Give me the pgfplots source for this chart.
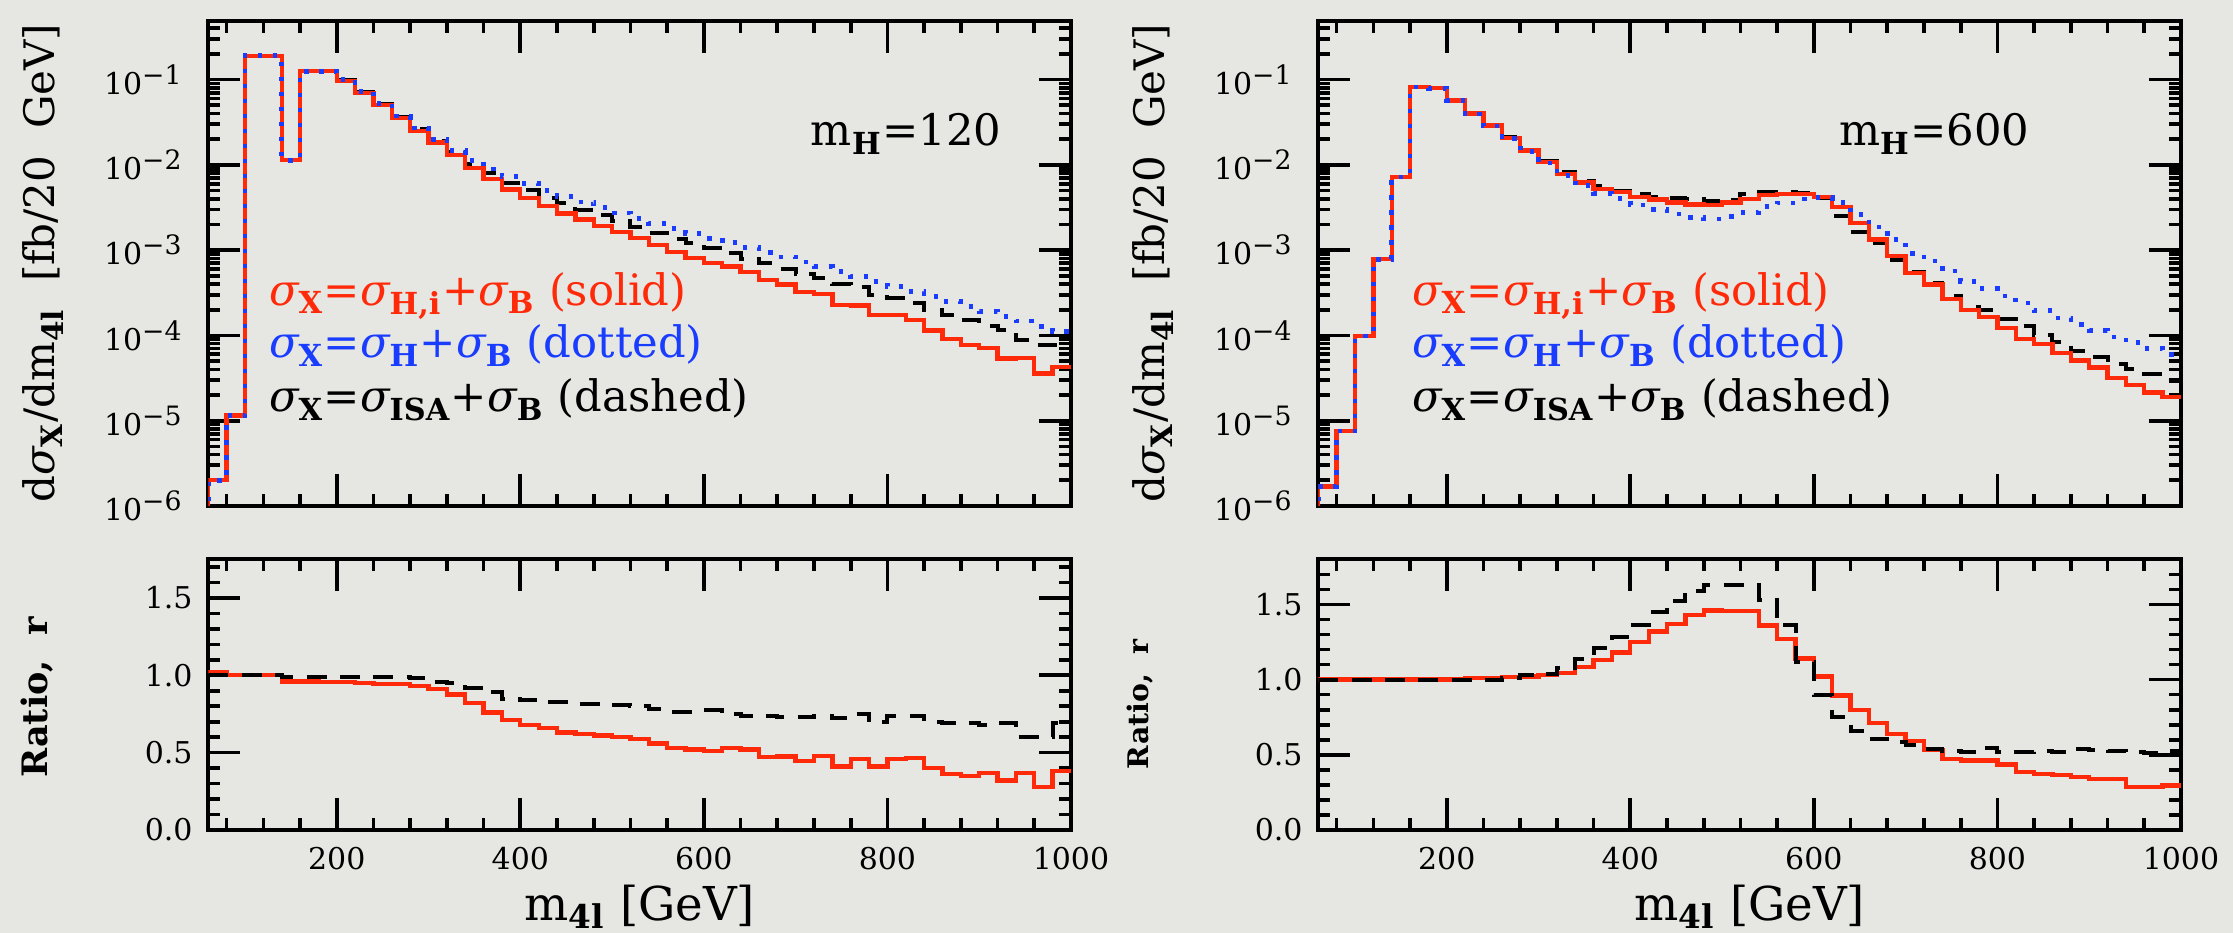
\documentclass[border=0pt]{standalone}
\usepackage{fontspec}
\setmainfont{DejaVu Serif}
\usepackage{pgfplots}
\usepackage{pgfplotstable}
\pgfplotsset{compat=1.18}
\definecolor{bg}{RGB}{230,230,226}
\definecolor{myred}{RGB}{255,42,10}
\definecolor{myblue}{RGB}{25,60,255}

% m_H = 120 : x = bin left edge, r = sigma_{H,i}+B, b = sigma_H+B, k = sigma_ISA+B
\pgfplotstableread{
x r b k
60 1e-7 1e-7 1e-7
60 2.0e-6 2.0e-6 2.0e-6
80 1.15e-5 1.15e-5 1.15e-5
100 0.19 0.19 0.19
120 0.19 0.19 0.19
140 0.0113 0.0113 0.0113
160 0.125 0.125 0.125
180 0.125 0.125 0.127
200 0.096 0.100 0.099
220 0.0695 0.0724 0.0717
240 0.0501 0.0525 0.052
260 0.0351 0.0372 0.0368
280 0.0250 0.0269 0.0264
300 0.0182 0.01995 0.0191
320 0.01294 0.01479 0.01405
340 0.0092 0.01122 0.01032
360 0.00677 0.00891 0.00793
380 0.00514 0.00724 0.00616
400 0.0041 0.00603 0.00506
420 0.00331 0.00501 0.00413
440 0.00269 0.00427 0.00352
460 0.00228 0.00367 0.00299
480 0.00193 0.00316 0.00258
500 0.00163 0.00272 0.0022
520 0.00138 0.00234 0.00187
540 0.00114 0.00204 0.00159
560 0.000943 0.00178 0.00136
580 0.000815 0.00157 0.0012
600 0.000704 0.00138 0.00107
620 0.000645 0.00122 0.000915
640 0.000558 0.00107 0.000794
660 0.000444 0.000944 0.000697
680 0.000395 0.000832 0.000607
700 0.000324 0.000728 0.000531
720 0.000306 0.000637 0.00047
740 0.000228 0.000557 0.000403
760 0.000224 0.000488 0.000366
780 0.000175 0.000427 0.000299
800 0.000172 0.000373 0.000275
820 0.000152 0.000327 0.000241
840 0.000114 0.000286 0.0002
860 0.00009 0.00025 0.000173
880 0.0000766 0.000219 0.000151
900 0.0000708 0.000191 0.00013
920 0.0000536 0.000167 0.000115
940 0.0000542 0.000147 0.000088
960 0.0000359 0.000128 0.000077
980 0.0000427 0.000112 0.0000775
1000 0.0000427 0.000112 0.0000775
}\tabA

\pgfplotstableread{
x r k
60 1.02 1.0
80 1.0 1.0
100 1.0 1.0
120 1.0 1.0
140 0.96 0.99
160 0.96 0.99
180 0.955 0.99
200 0.955 0.99
220 0.95 0.99
240 0.945 0.99
260 0.945 0.99
280 0.93 0.98
300 0.91 0.955
320 0.875 0.95
340 0.82 0.92
360 0.76 0.89
380 0.71 0.85
400 0.68 0.84
420 0.66 0.825
440 0.63 0.825
460 0.62 0.815
480 0.61 0.815
500 0.60 0.81
520 0.59 0.80
540 0.56 0.78
560 0.53 0.766
580 0.52 0.766
600 0.51 0.773
620 0.53 0.752
640 0.52 0.74
660 0.47 0.738
680 0.475 0.73
700 0.445 0.73
720 0.48 0.738
740 0.41 0.723
760 0.46 0.75
780 0.41 0.70
800 0.46 0.738
820 0.465 0.738
840 0.40 0.70
860 0.36 0.69
880 0.35 0.69
900 0.37 0.68
920 0.32 0.69
940 0.37 0.60
960 0.28 0.60
980 0.38 0.69
1000 0.38 0.69
}\tabAr

% m_H = 600
\pgfplotstableread{
x r b k
60 1e-7 1e-7 1e-7
60 1.7e-6 1.7e-6 1.7e-6
80 7.6e-6 7.6e-6 7.6e-6
100 9.8e-5 9.8e-5 9.8e-5
120 7.8e-4 7.8e-4 7.8e-4
140 7.2e-3 7.2e-3 7.2e-3
160 0.0817 0.0817 0.0817
180 0.079 0.079 0.079
200 0.057 0.057 0.057
220 0.040 0.0396 0.040
240 0.0288 0.0285 0.0296
260 0.0206 0.0202 0.021
280 0.0147 0.0144 0.015
300 0.0108 0.01049 0.011
320 0.00786 0.00752 0.00822
340 0.00623 0.00574 0.00647
360 0.00524 0.00464 0.00564
380 0.00476 0.00403 0.00499
400 0.00423 0.00338 0.00453
420 0.00392 0.00297 0.00423
440 0.00363 0.00265 0.00411
460 0.00342 0.00239 0.00399
480 0.00339 0.00232 0.00373
500 0.00363 0.00249 0.00392
520 0.00398 0.00274 0.00453
540 0.0044 0.00324 0.00475
560 0.00453 0.00357 0.00475
580 0.00453 0.00397 0.0047
600 0.00419 0.00411 0.00411
620 0.00323 0.00361 0.00254
640 0.00209 0.00261 0.00164
660 0.00133 0.00187 0.00121
680 0.00085 0.00133 0.00076
700 0.000543 0.00092 0.00056
720 0.000394 0.000743 0.000406
740 0.000269 0.000569 0.000289
760 0.000197 0.000426 0.000217
780 0.000163 0.000353 0.000197
800 0.000122 0.00029 0.000154
820 0.000091 0.00024 0.000128
840 0.000079 0.000195 0.0001
860 0.000062 0.00016 0.000083
880 0.000051 0.000135 0.000065
900 0.000042 0.000115 0.000056
920 0.0000316 0.000096 0.000046
940 0.000026 0.000082 0.00004
960 0.0000215 0.00007 0.000035
980 0.000019 0.00006 0.000029
1000 0.000019 0.00006 0.000029
}\tabB

\pgfplotstableread{
x r k
60 1.0 1.0
80 1.0 1.0
100 1.0 1.0
120 1.0 1.0
140 1.0 1.0
160 1.0 1.0
180 1.0 1.0
200 1.0 1.0
220 1.01 1.0
240 1.01 1.0
260 1.018 1.01
280 1.02 1.03
300 1.03 1.04
320 1.045 1.08
340 1.085 1.14
360 1.13 1.21
380 1.18 1.285
400 1.25 1.36
420 1.32 1.45
440 1.37 1.52
460 1.43 1.59
480 1.46 1.63
500 1.455 1.63
520 1.455 1.63
540 1.36 1.53
560 1.27 1.36
580 1.14 1.12
600 1.02 0.895
620 0.895 0.75
640 0.80 0.66
660 0.71 0.607
680 0.64 0.585
700 0.59 0.562
720 0.53 0.54
740 0.473 0.524
760 0.462 0.518
780 0.462 0.547
800 0.435 0.518
820 0.385 0.518
840 0.373 0.524
860 0.367 0.518
880 0.351 0.54
900 0.34 0.533
920 0.34 0.524
940 0.284 0.518
960 0.284 0.513
980 0.295 0.524
1000 0.295 0.524
}\tabBr

\newcommand{\ex}[1]{10\raisebox{0.65ex}{\fontsize{8}{9}\selectfont −#1}}

\pgfplotsset{
  mypanel/.style={
    scale only axis, width=258.8pt,
    xmin=60, xmax=1000,
    axis line style={line width=1.2pt},
    every tick/.style={line width=1.1pt, black},
    major tick length=9.6pt, minor tick length=3.6pt,
    tick align=inside,
    xtick={200,400,600,800,1000},
    minor xtick={80,120,160,240,280,320,360,440,480,520,560,640,680,720,760,840,880,920,960},
    ticklabel style={font=\fontsize{9}{11}\selectfont},
    xticklabel style={yshift=-1.5pt},
  },
  mytop/.style={
    mypanel, height=145.6pt, ymin=1e-6, ymax=0.49,
    xticklabels={},
    ytick={1e-6,1e-5,1e-4,1e-3,1e-2,1e-1},
    yticklabels={\ex{6},\ex{5},\ex{4},\ex{3},\ex{2},\ex{1}},
    yticklabel style={xshift=-4.5pt},
    minor ytick={2e-6,3e-6,4e-6,5e-6,6e-6,7e-6,8e-6,9e-6,
                 2e-5,3e-5,4e-5,5e-5,6e-5,7e-5,8e-5,9e-5,
                 2e-4,3e-4,4e-4,5e-4,6e-4,7e-4,8e-4,9e-4,
                 2e-3,3e-3,4e-3,5e-3,6e-3,7e-3,8e-3,9e-3,
                 0.02,0.03,0.04,0.05,0.06,0.07,0.08,0.09,0.2,0.3,0.4},
    ylabel={\fontsize{12.6}{15}\selectfont d{\itshape σ}\textsubscript{\bfseries X}/dm\textsubscript{\bfseries 4l}\ \ [fb/20\ \ GeV]},
    ylabel style={at={(axis description cs:-0.1916,0.5)}, anchor=center},
  },
  myratio/.style={
    mypanel, height=81.2pt, ymin=0,
    xticklabels={200,400,600,800,1000},
    ytick={0,0.5,1,1.5}, yticklabels={0.0,0.5,1.0,1.5},
    minor ytick={0.1,0.2,0.3,0.4,0.6,0.7,0.8,0.9,1.1,1.2,1.3,1.4,1.6,1.7},
    yticklabel style={xshift=-1.2pt},
    xlabel={\fontsize{14}{16}\selectfont m\textsubscript{\bfseries 4l}\ [GeV]},
    xlabel style={at={(axis description cs:0.5,0)}, anchor=center, yshift=-23pt},
  },
}

\newcommand{\leg}{\fontsize{13}{15}\selectfont}
\newcommand{\sig}{{\itshape σ}}
\newcommand{\sub}[1]{\textsubscript{\bfseries #1}}

\begin{document}
\begin{tikzpicture}
\fill[bg] (0,0) rectangle (669.9pt,279.9pt);

% ---------- left top ----------
\begin{axis}[ymode=log, mytop, at={(62.49pt,128.1pt)}, anchor=south west]
\addplot[const plot, color=black, line width=1.2pt, dash pattern=on 6pt off 4pt] table[x=x,y=k] {\tabA};
\addplot[const plot, color=myred, line width=1.3pt] table[x=x,y=r] {\tabA};
\addplot[const plot, color=myblue, line width=1.4pt, dash pattern=on 1.3pt off 3.2pt] table[x=x,y=b] {\tabA};
\node[anchor=base, inner sep=0] at (rel axis cs:0.809,0.742) {\fontsize{13}{15}\selectfont m\sub{H}=120};
\node[anchor=base west, inner sep=0, text=myred] at (rel axis cs:0.0696,0.414) {\leg \sig\sub{X}=\sig\sub{H,i}+\sig\sub{B} (solid)};
\node[anchor=base west, inner sep=0, text=myblue] at (rel axis cs:0.0696,0.305) {\leg \sig\sub{X}=\sig\sub{H}+\sig\sub{B} (dotted)};
\node[anchor=base west, inner sep=0, text=black] at (rel axis cs:0.0696,0.194) {\leg \sig\sub{X}=\sig\sub{ISA}+\sig\sub{B} (dashed)};
\end{axis}

% ---------- left ratio ----------
\begin{axis}[myratio, ymax=1.75, at={(62.49pt,30.9pt)}, anchor=south west,
  ylabel={\bfseries\fontsize{10.5}{12}\selectfont Ratio,\ \ r},
  ylabel style={at={(axis description cs:-0.1986,0.49)}, anchor=center}]
\addplot[const plot, color=myred, line width=1.3pt] table[x=x,y=r] {\tabAr};
\addplot[const plot, color=black, line width=1.2pt, dash pattern=on 6pt off 4pt] table[x=x,y=k] {\tabAr};
\end{axis}

% ---------- right top ----------
\begin{axis}[ymode=log, mytop, at={(395.49pt,128.1pt)}, anchor=south west]
\addplot[const plot, color=black, line width=1.2pt, dash pattern=on 6pt off 4pt] table[x=x,y=k] {\tabB};
\addplot[const plot, color=myred, line width=1.3pt] table[x=x,y=r] {\tabB};
\addplot[const plot, color=myblue, line width=1.4pt, dash pattern=on 1.3pt off 3.2pt] table[x=x,y=b] {\tabB};
\node[anchor=base, inner sep=0] at (rel axis cs:0.714,0.742) {\fontsize{13}{15}\selectfont m\sub{H}=600};
\node[anchor=base west, inner sep=0, text=myred] at (rel axis cs:0.108,0.414) {\leg \sig\sub{X}=\sig\sub{H,i}+\sig\sub{B} (solid)};
\node[anchor=base west, inner sep=0, text=myblue] at (rel axis cs:0.108,0.305) {\leg \sig\sub{X}=\sig\sub{H}+\sig\sub{B} (dotted)};
\node[anchor=base west, inner sep=0, text=black] at (rel axis cs:0.108,0.194) {\leg \sig\sub{X}=\sig\sub{ISA}+\sig\sub{B} (dashed)};
\end{axis}

% ---------- right ratio ----------
\begin{axis}[myratio, ymax=1.8, at={(395.49pt,30.9pt)}, anchor=south west,
  ylabel={\bfseries\fontsize{8.5}{10}\selectfont Ratio,\ \ r},
  ylabel style={at={(axis description cs:-0.2067,0.465)}, anchor=center}]
\addplot[const plot, color=myred, line width=1.3pt] table[x=x,y=r] {\tabBr};
\addplot[const plot, color=black, line width=1.2pt, dash pattern=on 6pt off 4pt] table[x=x,y=k] {\tabBr};
\end{axis}

\pgfresetboundingbox
\path (0,0) rectangle (669.9pt,279.9pt);
\end{tikzpicture}
\end{document}
